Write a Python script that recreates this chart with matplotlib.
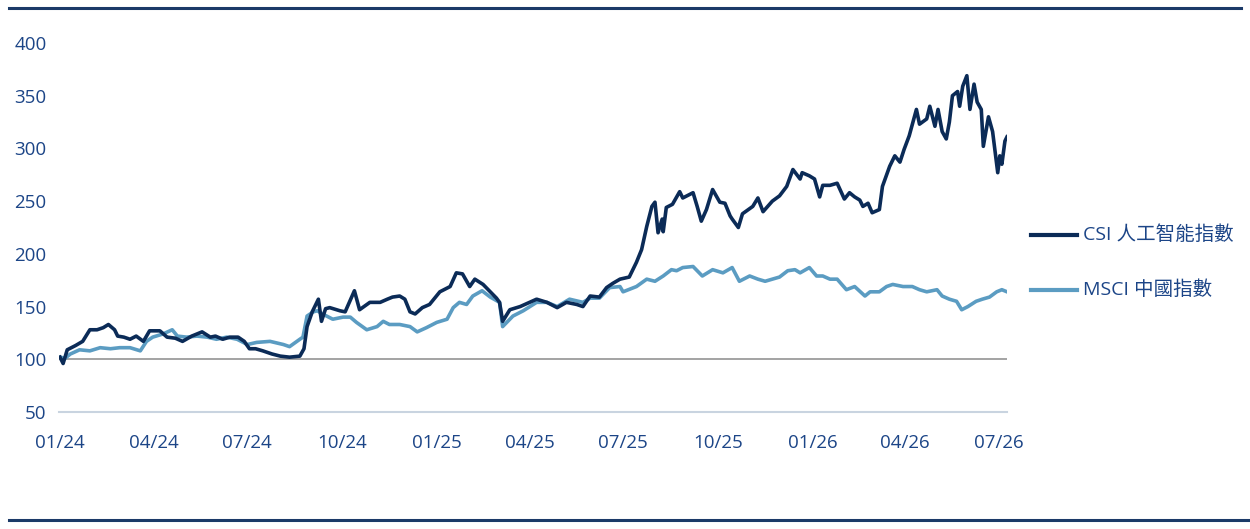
import matplotlib
matplotlib.use("Agg")
import matplotlib.pyplot as plt
from matplotlib.lines import Line2D
import pandas as pd

plt.rcParams['font.family'] = ['Open Sans', 'Noto Sans CJK TC', 'DejaVu Sans']

series_names = ["CSI 人工智能指數", "MSCI 中國指數"]

csi_dates = [
    "2024-01-01", "2024-01-04", "2024-01-08", "2024-01-16", "2024-01-23", "2024-01-30",
    "2024-02-06", "2024-02-12", "2024-02-17", "2024-02-23", "2024-02-26", "2024-03-03",
    "2024-03-09", "2024-03-15", "2024-03-22", "2024-03-28", "2024-04-07", "2024-04-14",
    "2024-04-22", "2024-04-29", "2024-05-08", "2024-05-18", "2024-05-26", "2024-05-31",
    "2024-06-07", "2024-06-14", "2024-06-22", "2024-06-28", "2024-07-03", "2024-07-09",
    "2024-07-16", "2024-07-25", "2024-08-02", "2024-08-11", "2024-08-21", "2024-08-25",
    "2024-08-28", "2024-09-02", "2024-09-08", "2024-09-11", "2024-09-15", "2024-09-19",
    "2024-09-29", "2024-10-04", "2024-10-13", "2024-10-18", "2024-10-28", "2024-11-07",
    "2024-11-14", "2024-11-19", "2024-11-26", "2024-12-01", "2024-12-06", "2024-12-11",
    "2024-12-18", "2024-12-25", "2025-01-04", "2025-01-14", "2025-01-20", "2025-01-26",
    "2025-02-02", "2025-02-07", "2025-02-15", "2025-02-22", "2025-02-28", "2025-03-03",
    "2025-03-06", "2025-03-13", "2025-03-23", "2025-04-01", "2025-04-08", "2025-04-18",
    "2025-04-28", "2025-05-07", "2025-05-17", "2025-05-23", "2025-05-30", "2025-06-08",
    "2025-06-15", "2025-06-21", "2025-06-28", "2025-07-07", "2025-07-14", "2025-07-19",
    "2025-07-24", "2025-07-29", "2025-08-01", "2025-08-04", "2025-08-08", "2025-08-09",
    "2025-08-12", "2025-08-18", "2025-08-25", "2025-08-28", "2025-09-07", "2025-09-11",
    "2025-09-15", "2025-09-20", "2025-09-26", "2025-10-03", "2025-10-08", "2025-10-13",
    "2025-10-15", "2025-10-21", "2025-10-25", "2025-11-04", "2025-11-09", "2025-11-14",
    "2025-11-23", "2025-11-30", "2025-12-07", "2025-12-13", "2025-12-20", "2025-12-22",
    "2025-12-29", "2026-01-03", "2026-01-08", "2026-01-11", "2026-01-18", "2026-01-25",
    "2026-02-01", "2026-02-06", "2026-02-11", "2026-02-16", "2026-02-19", "2026-02-24",
    "2026-02-28", "2026-03-07", "2026-03-10", "2026-03-17", "2026-03-22", "2026-03-27",
    "2026-03-31", "2026-04-05", "2026-04-12", "2026-04-15", "2026-04-22", "2026-04-25",
    "2026-04-30", "2026-05-03", "2026-05-07", "2026-05-11", "2026-05-14", "2026-05-17",
    "2026-05-22", "2026-05-24", "2026-05-27", "2026-05-31", "2026-06-03", "2026-06-07",
    "2026-06-10", "2026-06-14", "2026-06-16", "2026-06-21", "2026-06-25", "2026-06-30",
    "2026-07-02", "2026-07-04", "2026-07-07", "2026-07-09",
]
csi_values = [
    102, 96, 109, 113, 117, 128,
    128, 130, 133, 128, 122, 121,
    119, 122, 117, 127, 127, 121,
    120, 117, 122, 126, 121, 122,
    119, 121, 121, 117, 110, 110,
    108, 105, 103, 102, 103, 110,
    131, 145, 157, 136, 148, 149,
    146, 145, 165, 147, 154, 154,
    157, 159, 160, 157, 145, 143,
    149, 152, 164, 169, 182, 181,
    169, 176, 171, 164, 158, 154,
    136, 147, 150, 154, 157, 154,
    149, 154, 152, 150, 160, 159,
    168, 172, 176, 178, 192, 204,
    226, 245, 249, 220, 233, 221,
    244, 247, 259, 253, 258, 245,
    231, 242, 261, 249, 248, 236,
    233, 225, 238, 245, 253, 240,
    250, 255, 264, 280, 271, 277,
    274, 271, 254, 265, 265, 267,
    252, 258, 254, 251, 245, 248,
    239, 242, 264, 283, 293, 287,
    299, 312, 337, 323, 328, 340,
    321, 337, 316, 309, 325, 350,
    354, 340, 359, 369, 337, 361,
    344, 337, 302, 330, 316, 277,
    293, 285, 307, 311,
]

msci_dates = [
    "2024-01-01", "2024-01-06", "2024-01-11", "2024-01-20", "2024-01-30", "2024-02-09",
    "2024-02-19", "2024-02-28", "2024-03-09", "2024-03-19", "2024-03-25", "2024-03-31",
    "2024-04-10", "2024-04-19", "2024-04-24", "2024-05-03", "2024-05-13", "2024-05-23",
    "2024-06-01", "2024-06-11", "2024-06-21", "2024-07-01", "2024-07-10", "2024-07-23",
    "2024-08-05", "2024-08-11", "2024-08-21", "2024-08-24", "2024-08-28", "2024-09-03",
    "2024-09-07", "2024-09-12", "2024-09-22", "2024-10-02", "2024-10-09", "2024-10-15",
    "2024-10-25", "2024-11-04", "2024-11-10", "2024-11-16", "2024-11-26", "2024-12-06",
    "2024-12-13", "2024-12-22", "2025-01-01", "2025-01-11", "2025-01-17", "2025-01-23",
    "2025-01-30", "2025-02-05", "2025-02-14", "2025-02-22", "2025-03-03", "2025-03-06",
    "2025-03-16", "2025-03-26", "2025-04-08", "2025-04-18", "2025-04-28", "2025-05-10",
    "2025-05-23", "2025-05-30", "2025-06-08", "2025-06-18", "2025-06-28", "2025-07-01",
    "2025-07-14", "2025-07-24", "2025-08-01", "2025-08-09", "2025-08-17", "2025-08-22",
    "2025-08-28", "2025-09-07", "2025-09-16", "2025-09-26", "2025-10-06", "2025-10-15",
    "2025-10-22", "2025-11-01", "2025-11-09", "2025-11-16", "2025-11-30", "2025-12-08",
    "2025-12-15", "2025-12-20", "2025-12-29", "2026-01-05", "2026-01-11", "2026-01-18",
    "2026-01-25", "2026-02-03", "2026-02-11", "2026-02-21", "2026-02-26", "2026-03-07",
    "2026-03-14", "2026-03-20", "2026-03-30", "2026-04-08", "2026-04-15", "2026-04-22",
    "2026-05-02", "2026-05-07", "2026-05-14", "2026-05-21", "2026-05-26", "2026-06-01",
    "2026-06-09", "2026-06-15", "2026-06-22", "2026-06-29", "2026-07-04", "2026-07-09",
]
msci_values = [
    102, 101, 105, 109, 108, 111,
    110, 111, 111, 108, 117, 121,
    124, 128, 122, 121, 122, 121,
    119, 121, 119, 114, 116, 117,
    114, 112, 119, 121, 141, 145,
    146, 143, 138, 140, 140, 135,
    128, 131, 136, 133, 133, 131,
    126, 130, 135, 138, 149, 154,
    152, 160, 165, 159, 154, 131,
    141, 146, 154, 154, 150, 157,
    154, 158, 158, 168, 169, 164,
    169, 176, 174, 179, 185, 184,
    187, 188, 179, 185, 182, 187,
    174, 179, 176, 174, 178, 184,
    185, 182, 187, 179, 179, 176,
    176, 166, 169, 160, 164, 164,
    169, 171, 169, 169, 166, 164,
    166, 160, 157, 155, 147, 150,
    155, 157, 159, 164, 166, 164,
]

tick_dates = ["2024-01-01", "2024-04-01", "2024-07-01", "2024-10-01", "2025-01-01",
              "2025-04-01", "2025-07-01", "2025-10-01", "2026-01-01", "2026-04-01",
              "2026-07-01"]
tick_labels = ["01/24", "04/24", "07/24", "10/24", "01/25", "04/25", "07/25",
               "10/25", "01/26", "04/26", "07/26"]
y_ticks = [50, 100, 150, 200, 250, 300, 350, 400]

dark = "#0b2b57"
light = "#5b9cc2"
label_col = "#1c4587"

fig = plt.figure(figsize=(12.5, 5.29), dpi=100)
W, H = 1250, 529
ax = fig.add_axes([59 / W, 1 - 412 / H, (1007 - 59) / W, (412 - 43) / H])

ax.axhline(100, color="#9c9c9c", lw=1.3, zorder=1)
ax.plot(pd.to_datetime(msci_dates), msci_values, color=light, lw=2.6,
        solid_joinstyle="round", zorder=2)
ax.plot(pd.to_datetime(csi_dates), csi_values, color=dark, lw=2.6,
        solid_joinstyle="round", zorder=3)

ax.set_ylim(50, 400)
ax.set_xlim(pd.Timestamp("2023-12-31"), pd.Timestamp("2026-07-09"))
ax.set_yticks(y_ticks)
ax.set_xticks(pd.to_datetime(tick_dates))
ax.set_xticklabels(tick_labels)

for s in ["top", "right", "left"]:
    ax.spines[s].set_visible(False)
ax.spines["bottom"].set_color("#c9d4e0")
ax.spines["bottom"].set_linewidth(1.5)
ax.tick_params(axis="both", length=0, labelsize=13.5, labelcolor=label_col)
ax.tick_params(axis="y", pad=9)
ax.tick_params(axis="x", pad=16)

# legend (drawn at right of the plot)
legend_colors = [dark, light]
legend_y = [235, 290]
for name, col, yy in zip(series_names, legend_colors, legend_y):
    fig.add_artist(Line2D([1031 / W, 1077 / W], [1 - yy / H, 1 - yy / H],
                          color=col, lw=3.0))
    fig.text(1083 / W, 1 - yy / H, name, color=label_col, fontsize=14,
             va="center", ha="left")

# top & bottom rules
fig.add_artist(Line2D([9 / W, 1241 / W], [1 - 8 / H, 1 - 8 / H], color="#1b3a68", lw=2.2))
fig.add_artist(Line2D([9 / W, 1250 / W], [1 - 520 / H, 1 - 520 / H], color="#1b3a68", lw=2.2))

fig.savefig("out.png", dpi=100)
